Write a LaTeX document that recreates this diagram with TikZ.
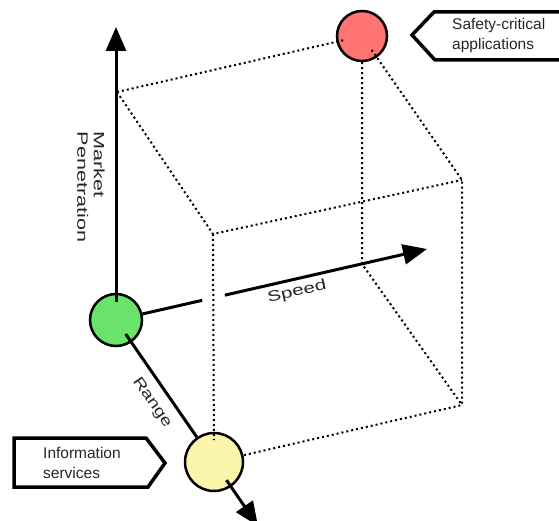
\documentclass[tikz,border=0pt]{standalone}
\usepackage{fontspec}
\setmainfont{Liberation Sans}
\usetikzlibrary{calc,arrows.meta}

\definecolor{pointred}{HTML}{FF7373}
\definecolor{pointgreen}{HTML}{69E36B}
\definecolor{pointyellow}{HTML}{FAF5AA}

\tikzset{
  point/.style={draw, circle, line width=2.5pt, inner sep=0pt},
  edge/.style={line width=2pt, dash pattern=on 2pt off 3pt},
  axis/.style={line width=3pt},
  axisarrow/.style={axis, -{Triangle[length=24pt,width=20pt]}},
  callout/.style={line width=3.5pt, line join=miter},
  axislabel/.style={font=\fontsize{15}{16.5}\selectfont, text=black!85, inner sep=0pt},
  calloutlabel/.style={font=\fontsize{15.5}{20}\selectfont, text=black!85, align=left, inner sep=0pt, anchor=north west}
}

\begin{document}
\begin{tikzpicture}[x=1pt,y=-1pt]
    \useasboundingbox (0,0) rectangle (559,521);
    \coordinate (top) at (117,92);
    \coordinate (fronttop) at (213,234);
    \coordinate (farcorner) at (462,180);
    \coordinate (farbottom) at (462,405);
    \coordinate (speedfoot) at (362,264);
    \coordinate (mtip) at (116,27);
    \coordinate (stip) at (427,249);
    \coordinate (rtip) at (258,526);
    \node[point, fill=pointgreen, minimum size=52pt] (start) at (116,320) {};
    \node[point, fill=pointyellow, minimum size=58pt] (info) at (214,462) {};
    \node[point, fill=pointred, minimum size=50pt] (safe) at (362,36) {};
    \draw[edge] (top) -- ($(safe)!19pt!(top)$);
    \draw[edge] (top) -- (fronttop) -- (farcorner);
    \draw[edge] ($(safe)!17pt!(farcorner)$) -- (farcorner) -- (farbottom) -- (info);
    \draw[edge] (safe) -- (speedfoot) -- (farbottom);
    \draw[edge] (fronttop) -- ($(info)!22pt!(fronttop)$);
    \draw[axisarrow] ($(start)!18pt!(mtip)$) -- (mtip);
    \draw[axis] (start) -- ($(start)!0.277!(stip)$);
    \draw[axisarrow] ($(start)!0.35!(stip)$) -- (stip);
    \draw[axis] ($(start)!17pt!(info)$) -- (info);
    \draw[axisarrow] ($(info)!22pt!(rtip)$) -- (rtip);
    \node[axislabel, rotate=-90, xscale=1.44, align=left] (penetration) at (91,187) {Market\\Penetration};
    \node[axislabel, rotate=12.7, xscale=1.38] (speed) at (297,292) {Speed};
    \node[axislabel, rotate=-55.4, xscale=1.3] (range) at (152,403) {Range};
    \draw[callout] (412,35) -- (434,12) -- (565,12) -- (565,60) -- (435,60) -- cycle;
    \node[calloutlabel] (safetytext) at (452,18) {Safety-critical\\applications};
    \draw[callout] (14,438) -- (146,438) -- (165,463) -- (148,487) -- (14,487) -- cycle;
    \node[calloutlabel] (infotext) at (43,447.5) {Information\\services};
\end{tikzpicture}
\end{document}
